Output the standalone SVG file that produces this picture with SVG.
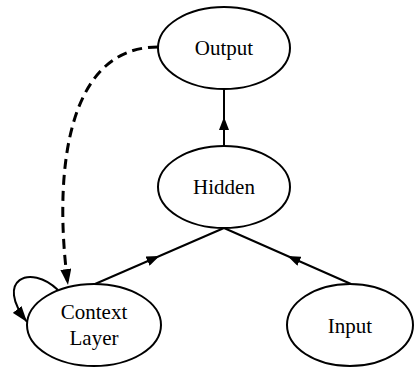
<svg xmlns="http://www.w3.org/2000/svg" width="414" height="367" viewBox="0 0 414 367">
<style>
.node ellipse{fill:#fff;stroke:#000;stroke-width:2}
.node text{font-family:"Liberation Serif","Times New Roman",serif;font-size:21px;fill:#000;text-anchor:middle}
.edge{fill:none;stroke:#000;stroke-width:2}
.dash{stroke-width:3;stroke-dasharray:10 6}
</style>
<defs>
<marker id="ah" markerUnits="userSpaceOnUse" markerWidth="13" markerHeight="10" viewBox="0 0 13 10" refX="13" refY="5" orient="auto">
<path d="M0,0 L13,5 L0,10 z" fill="#000"/>
</marker>
<marker id="ah2" markerUnits="userSpaceOnUse" markerWidth="16" markerHeight="11" viewBox="0 0 16 11" refX="16" refY="5.5" orient="auto">
<path d="M0,0 L16,5.5 L0,11 z" fill="#000"/>
</marker>
</defs>
<rect width="414" height="367" fill="#fff"/>
<g id="connectors">
<path class="edge" d="M224,146 L224,117 L224,89" marker-mid="url(#ah)"/>
<path class="edge" d="M95,284 L159.5,256 L224,228" marker-mid="url(#ah)"/>
<path class="edge" d="M351,284 L287.5,256 L224,228" marker-mid="url(#ah)"/>
<path class="edge dash" d="M158,47 C60,47 55,190 68,285" marker-end="url(#ah2)"/>
<path class="edge" d="M58,290 C30,263 -6,280 27,322" marker-end="url(#ah2)"/>
</g>
<g id="output" class="node">
<ellipse cx="224" cy="48" rx="66" ry="41"/>
<text x="224" y="55">Output</text>
</g>
<g id="hidden" class="node">
<ellipse cx="224" cy="187" rx="66" ry="41"/>
<text x="224" y="194">Hidden</text>
</g>
<g id="context" class="node">
<ellipse cx="94" cy="325" rx="67" ry="41"/>
<text x="94" y="319">Context</text>
<text x="94" y="345">Layer</text>
</g>
<g id="input" class="node">
<ellipse cx="350" cy="325" rx="63" ry="41"/>
<text x="350" y="333">Input</text>
</g>
</svg>
